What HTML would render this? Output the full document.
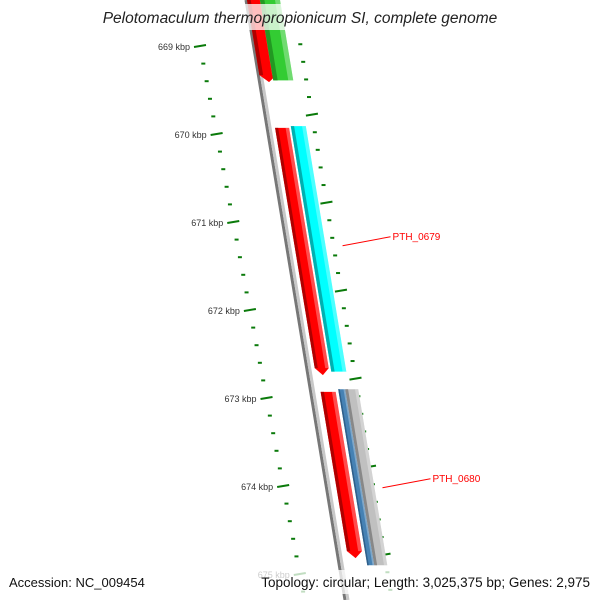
<!DOCTYPE html>
<html><head><meta charset="utf-8"><style>
html,body{margin:0;padding:0;background:#fff;overflow:hidden}
svg{display:block;overflow:hidden}
text{font-family:"Liberation Sans","DejaVu Sans",sans-serif}
</style></head><body>
<svg id="map" width="600" height="600" viewBox="0 0 600 600" xmlns="http://www.w3.org/2000/svg">
<g id="ticks"></g>
<g id="backbone"></g>
<g id="features"></g>
<g id="labels"></g>
<rect x="0" y="4" width="600" height="26" fill="#fff" opacity="0.75"/>
<text x="300" y="23" text-anchor="middle" font-size="15.5" font-style="italic" fill="#222">Pelotomaculum thermopropionicum SI, complete genome</text>
<rect x="0" y="570" width="600" height="24" fill="#fff" opacity="0.75"/>
<text x="9" y="587" font-size="13" fill="#111">Accession: NC_009454</text>
<text x="590" y="587" text-anchor="end" font-size="13.5" fill="#111">Topology: circular; Length: 3,025,375 bp; Genes: 2,975</text>
</svg>
<script>
const kbpTicks = [669, 670, 671, 672, 673, 674, 675];
const rightTicks = [669.78, 670.78, 671.78, 672.78, 673.78, 674.78, 675.78];
const featNames = ["gene-red-1", "gene-green-1", "PTH_0679-red", "PTH_0679-cyan", "PTH_0680-red", "PTH_0680-blue", "PTH_0680-gray"];
const featStart = [668.3, 668.3, 669.93, 669.91, 672.93, 672.9, 672.9];
const featEnd = [669.41, 669.39, 672.74, 672.7, 674.82, 674.9, 674.9];
const labelNames = ["PTH_0679", "PTH_0680"];
const labelPos = [671.27, 674.02];

const NS = "http://www.w3.org/2000/svg";
function yOf(p){ return 46 + (p - 669) * 88; }
function xb(y){ return 247 + 0.165 * y; }
function mk(tag, attrs, parent){ const e = document.createElementNS(NS, tag); for (const k in attrs) e.setAttribute(k, attrs[k]); parent.appendChild(e); return e; }

const tg = document.getElementById("ticks");
kbpTicks.forEach((k) => {
  for (let i = 0; i < 5; i++) {
    const p = k + i * 0.2, y = yOf(p), x = xb(y) - 55.7 + 0.024 * y;
    if (y > 600) continue;
    const t = mk("line", {x1: x - (i ? 2 : 6), y1: y + (i ? 0 : 1), x2: x + (i ? 2 : 6), y2: y - (i ? 0 : 1), stroke: "#0a7a0a", "stroke-width": 2}, tg);
    
    
  }
  const y = yOf(k), x = xb(y) - 55.7 + 0.024 * y;
  const lb = mk("text", {x: x - 10, y: y + 4, "font-size": 9, "text-anchor": "end", fill: "#333"}, tg);
  lb.textContent = k + " kbp";
  
  
});
rightTicks.forEach((k) => {
  for (let i = -4; i < 1; i++) {
    const p = k + i * 0.2, y = yOf(p), x = xb(y) + 46;
    if (y < 0 || y > 600) continue;
    const t = mk("line", {x1: x - (i ? 2 : 6), y1: y + (i ? 0 : 1), x2: x + (i ? 2 : 6), y2: y - (i ? 0 : 1), stroke: "#0a7a0a", "stroke-width": 2}, tg);
    
    
  }
});

const bb = document.getElementById("backbone");
const b1 = mk("line", {x1: xb(0) - 1, y1: 0, x2: xb(600) - 1, y2: 600, stroke: "#777", "stroke-width": 3}, bb);


const b2 = mk("line", {x1: xb(0) + 2, y1: 0, x2: xb(600) + 2, y2: 600, stroke: "#c8c8c8", "stroke-width": 3}, bb);



const lane = [[0, 17], [13, 33], [7, 21], [23, 38], [9, 24], [27, 34], [34, 47]];
const colA = ["#ff0000", "#33cc33", "#ff0000", "#00ffff", "#ff0000", "#4682b4", "#c0c0c0"];
const colB = ["#b00000", "#229922", "#b00000", "#00b0b0", "#b00000", "#2f5f8a", "#888"];
const fg = document.getElementById("features");
featNames.forEach((n, i) => {
  const y1 = yOf(featStart[i]), y2 = yOf(featEnd[i]);
  const [a, b] = lane[i];
  const arrow = i === 0 || i === 2 || i === 4;
  const tip = arrow ? 7 : 0;
  const pts = [[xb(y1) + a, y1], [xb(y1) + b, y1], [xb(y2 - tip) + b, y2 - tip], [xb(y2) + (a + b) / 2, y2], [xb(y2 - tip) + a, y2 - tip]];
  const g = mk("g", {}, fg);
  
  
  mk("polygon", {points: pts.map(p => p.join(",")).join(" "), fill: colA[i]}, g);
  const w = b - a;
  const sh = [[xb(y1) + a, y1], [xb(y1) + a + w * 0.22, y1], [xb(y2 - tip) + a + w * 0.22, y2 - tip], [xb(y2 - tip) + a, y2 - tip]];
  mk("polygon", {points: sh.map(p => p.join(",")).join(" "), fill: colB[i]}, g);
  const hl = [[xb(y1) + b - w * 0.25, y1], [xb(y1) + b, y1], [xb(y2 - tip) + b, y2 - tip], [xb(y2 - tip) + b - w * 0.25, y2 - tip]];
  mk("polygon", {points: hl.map(p => p.join(",")).join(" "), fill: "#fff", opacity: 0.3}, g);
});

const lg = document.getElementById("labels");
labelNames.forEach((n, i) => {
  const y = yOf(labelPos[i]), x = xb(y) + 55;
  const l = mk("line", {x1: x, y1: y, x2: x + 48, y2: y - 9, stroke: "#f00", "stroke-width": 1}, lg);
  
  
  const t = mk("text", {x: x + 50, y: y - 6, "font-size": 10, fill: "#f00"}, lg);
  t.textContent = n;
  
  
});
</script>
</body></html>
